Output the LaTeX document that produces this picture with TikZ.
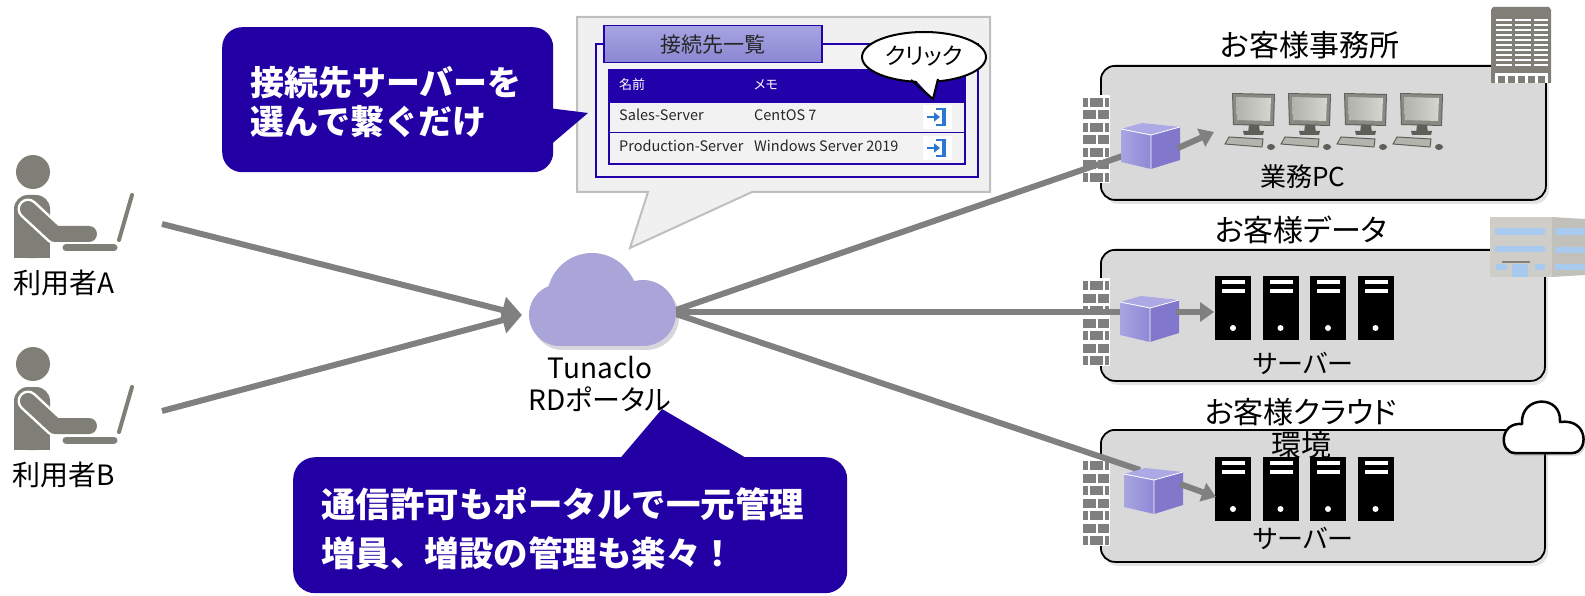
\documentclass[tikz,border=0pt]{standalone}
\usepackage{fontspec}
\setmainfont{Noto Sans CJK JP}[CharacterWidth=AlternateProportional]
\newfontfamily\calloutfont{Noto Sans CJK JP}
\usetikzlibrary{arrows.meta,shadows}

\newcommand{\fsz}[2]{\fontsize{#1pt}{#2pt}\selectfont}

\definecolor{indigo}{HTML}{2300A3}
\definecolor{tableblue}{HTML}{2200AA}
\definecolor{linkgray}{HTML}{808080}
\definecolor{figgray}{HTML}{7F7F77}
\definecolor{panelgray}{HTML}{D9D9D9}
\definecolor{listgray}{HTML}{F0F0F0}
\definecolor{rowgray}{HTML}{F2F2F2}
\definecolor{listedge}{HTML}{BFBFBF}
\definecolor{portalfill}{HTML}{A9A5D9}
\definecolor{portalshade}{HTML}{D6D6DC}
\definecolor{cubetop}{HTML}{ADA9E4}
\definecolor{cubeleftA}{HTML}{A9A5E1}
\definecolor{cubeleftB}{HTML}{8E88D6}
\definecolor{cuberight}{HTML}{8178CC}
\definecolor{brickgray}{HTML}{7F7F7F}
\definecolor{pcframe}{HTML}{8A8A84}
\definecolor{pcdark}{HTML}{5F5F59}
\definecolor{pcscreenA}{HTML}{B2B2AC}
\definecolor{pcscreenB}{HTML}{D6D6D1}
\definecolor{pckeys}{HTML}{B4B4AE}
\definecolor{towerface}{HTML}{CFCDC7}
\definecolor{towerside}{HTML}{C2C0BA}
\definecolor{glass}{HTML}{A8CAEE}
\definecolor{loginblue}{HTML}{2B78D0}
\definecolor{tabtop}{HTML}{A7A4E3}
\definecolor{tabbottom}{HTML}{8A86D1}
\definecolor{textdark}{HTML}{262626}

\tikzset{
  % person working at a laptop, origin at the centre of the head
  user/.pic={
    \fill[figgray] (0,0) circle[radius=17pt];
    \fill[figgray, rounded corners=14pt] (-19,23) rectangle (17,86);
    \fill[figgray] (-19,55) rectangle (17,86);
    \draw[white, line width=21pt, line cap=round, line join=round] (-5,37) -- (22,62) -- (56,62);
    \draw[figgray, line width=16pt, line cap=round, line join=round] (-5,37) -- (22,62) -- (56,62);
    \draw[figgray, line width=7pt, line cap=round] (33,76) -- (81,76);
    \draw[figgray, line width=4pt, line cap=round] (86,68) -- (99,23);
  },
  % desktop PC, origin at the top left of the monitor
  pc/.pic={
    \fill[pcdark] (0,0) -- (43,1) -- (42,33) -- (1,32) -- cycle;
    \fill[pcframe] (1,1) -- (42,2) -- (41,32) -- (2,31) -- cycle;
    \shade[left color=pcscreenA, right color=pcscreenB] (4,4) -- (39,5) -- (38,28) -- (5,27) -- cycle;
    \fill[pcdark] (17,32) -- (27,32) -- (28,40) -- (16,40) -- cycle;
    \fill[pcdark] (11,38) -- (32,38) -- (31,42) -- (12,42) -- cycle;
    \filldraw[fill=pckeys, draw=pcdark, line width=1pt] (-3,44) -- (31,46) -- (30,54) -- (-7,51) -- cycle;
    \fill[pcdark] (39,54) ellipse[x radius=4pt, y radius=3pt];
  },
  % tower server, origin at the top left
  server/.pic={
    \fill[black] (0,0) rectangle (36,64);
    \fill[white] (7,4) rectangle (30,8);
    \fill[white] (7,13) rectangle (30,17);
    \fill[white] (18,52) circle[radius=3pt];
  },
  % brick firewall, origin at the top left
  firewall/.pic={
    \fill[white] (0,0) rectangle (28,88);
    \foreach \r in {0,2,4,6}{
      \pgfmathsetmacro\yy{3+12.5*\r}
      \fill[brickgray] (1,\yy) rectangle (6,{\yy+9});
      \fill[brickgray] (8,\yy) rectangle (21,{\yy+9});
      \fill[brickgray] (23,\yy) rectangle (27,{\yy+9});
    }
    \foreach \r in {1,3,5}{
      \pgfmathsetmacro\yy{3+12.5*\r}
      \fill[brickgray] (1,\yy) rectangle (14,{\yy+9});
      \fill[brickgray] (16,\yy) rectangle (27,{\yy+9});
    }
  },
  % gateway box, origin at the top left
  cube/.pic={
    \fill[cubetop] (1,7) -- (22,1) -- (60,5) -- (31,13) -- cycle;
    \shade[left color=cubeleftA, right color=cubeleftB] (1,7) -- (31,13) -- (31,47) -- (1,40) -- cycle;
    \fill[cuberight] (31,13) -- (60,5) -- (60,38) -- (31,47) -- cycle;
    \draw[white, line width=0.8pt, line join=round] (1,7) -- (31,13) -- (60,5) (31,13) -- (31,47);
  },
  % sign-in glyph on a white tile
  login/.pic={
    \fill[white] (0,0) rectangle (29,24);
    \draw[loginblue, line width=2pt] (13,4) -- (21,4);
    \draw[loginblue, line width=2pt] (13,20) -- (21,20);
    \draw[loginblue, line width=4pt] (21,3) -- (21,21);
    \draw[loginblue, line width=2.5pt, -{Triangle[length=6pt,width=9pt]}] (4,12) -- (17,12);
  },
}

\begin{document}
\begin{tikzpicture}[x=1pt, y=-1pt,
  wire/.style={draw=linkgray, line width=6pt},
  wirearrow/.style={wire, -{Triangle[length=20pt,width=26pt]}},
  shortarrow/.style={wire, -{Triangle[length=14pt,width=19pt]}},
  panel/.style={draw=black, line width=1.8pt, fill=panelgray, rounded corners=14pt,
    drop shadow={opacity=0.22, shadow xshift=3pt, shadow yshift=-4pt},
    anchor=north west, inner sep=0pt},
  paneltitle/.style={font=\fsz{30}{33}, text=black, align=center},
  lbl/.style={font=\fsz{28}{32}, text=black, align=center},
  sublbl/.style={font=\fsz{26}{30}, text=black},
  cell/.style={anchor=west, inner sep=0pt, text height=10pt, text depth=3pt, font=\fsz{14.5}{16}, text=textdark},
  headcell/.style={cell, font=\fsz{13}{15}, text=white},
  bubble/.style={fill=indigo, anchor=north west, inner sep=0pt},
  bubbletext/.style={anchor=west, inner sep=0pt, align=left, text=white, font=\calloutfont\bfseries\fsz{34}{39}},
]
\useasboundingbox (0,0) rectangle (1585,596);

% ---------- customer sites ----------
\node[panel, minimum width=445pt, minimum height=134pt] (office) at (1100,65) {};
\node[panel, minimum width=444pt, minimum height=131pt] (datacenter) at (1100,249) {};
\node[panel, minimum width=444pt, minimum height=132pt] (cloudenv) at (1100,429) {};

\node[paneltitle] (officeTitle) at (1310,45) {お客様事務所};
\node[paneltitle] (dataTitle) at (1301,230) {お客様データ};
\node[paneltitle] (cloudTitle) at (1301,429) {お客様クラウド\\環境};

% office tower
\fill[figgray] (1493,7) -- (1549,7) -- (1551,10) -- (1551,83) -- (1491,83) -- (1491,10) -- cycle;
\foreach \r in {0,...,9}{
  \fill[white] (1496,{19+5*\r}) rectangle (1512,{21.2+5*\r});
  \fill[white] (1515,{19+5*\r}) rectangle (1531,{21.2+5*\r});
  \fill[white] (1534,{19+5*\r}) rectangle (1548,{21.2+5*\r});
}
\fill[white] (1495,73) rectangle (1548,83);
\foreach \k in {0,...,4}{ \fill[figgray] ({1498+10*\k},76) rectangle ({1505+10*\k},83); }

% data centre building
\fill[towerface] (1490,217) rectangle (1552,277);
\fill[towerside] (1552,217) -- (1585,219) -- (1585,275) -- (1552,277) -- cycle;
\fill[glass] (1495,228) rectangle (1545,235);
\fill[glass] (1495,246) rectangle (1545,252);
\fill[gray] (1502,261) rectangle (1530,263);
\fill[glass] (1496,264) rectangle (1507,270);
\fill[glass] (1512,264) rectangle (1528,277);
\fill[glass] (1535,264) rectangle (1545,270);
\fill[glass] (1555,228) rectangle (1585,235);
\fill[glass] (1555,247) rectangle (1585,253);
\fill[glass] (1555,264) rectangle (1585,270);

% cloud badge
\draw[black, line width=2.5pt, fill=white, line join=round,
      drop shadow={opacity=0.25, shadow xshift=2pt, shadow yshift=-3pt}]
  (1515,453) .. controls (1499,453) and (1499,422) .. (1522,424)
  .. controls (1520,395) and (1562,394) .. (1560,422)
  .. controls (1589,418) and (1589,453) .. (1572,453) -- cycle;

% devices
\foreach \k in {0,...,3}{ \pic at ({1232+56*\k},93) {pc}; }
\foreach \k in {0,...,3}{ \pic at ({1215+47.5*\k},276) {server}; }
\foreach \k in {0,...,3}{ \pic at ({1215+47.5*\k},457) {server}; }

\node[sublbl] (pcLabel) at (1303,177) {業務PC};
\node[sublbl] (dataServerLabel) at (1303,363) {サーバー};
\node[sublbl] (cloudServerLabel) at (1303,538) {サーバー};

% firewalls
\pic at (1082,95) {firewall};
\pic at (1082,278) {firewall};
\pic at (1082,458) {firewall};

% ---------- connections ----------
\coordinate (userAout) at (162,224);
\coordinate (userBout) at (162,411);
\coordinate (portalIn) at (522,315);
\coordinate (portalOut) at (670,312);
\coordinate (officeGate) at (1140,150);
\coordinate (dataGate) at (1140,312);
\coordinate (cloudGate) at (1140,470);
\coordinate (officeGateOut) at (1178,148);
\coordinate (dataGateOut) at (1176,312);
\coordinate (cloudGateOut) at (1180,484);
\coordinate (officeDesks) at (1214,132);
\coordinate (dataRack) at (1214,312);
\coordinate (cloudRack) at (1216,497);

\fill[portalshade] (595,302) circle[radius=45pt] (563,319) circle[radius=31pt]
  (646,317) circle[radius=33pt];
\fill[portalshade] (563,304) rectangle (646,350);

\draw[wire] (portalOut) -- (officeGate);
\draw[wire] (portalOut) -- (dataGate);
\draw[wire] (portalOut) -- (cloudGate);

\pic at (1120,122) {cube};
\pic at (1119,295) {cube};
\pic at (1123,467) {cube};

\draw[shortarrow] (officeGateOut) -- (officeDesks);
\draw[shortarrow] (dataGateOut) -- (dataRack);
\draw[shortarrow] (cloudGateOut) -- (cloudRack);

\draw[wirearrow] (userAout) -- (portalIn);
\draw[wirearrow] (userBout) -- (portalIn);

% ---------- portal ----------
\fill[portalfill] (592,298) circle[radius=45pt] (560,315) circle[radius=31pt]
  (643,313) circle[radius=33pt];
\fill[portalfill] (560,300) rectangle (643,346);
\coordinate (portal) at (600,312);
\node[lbl] (portalLabel) at (600,384) {Tunaclo\\RDポータル};

% ---------- users ----------
\pic at (33,172) {user};
\pic at (33,364) {user};
\node[lbl] (userALabel) at (64,283) {利用者A};
\node[lbl] (userBLabel) at (64,475) {利用者B};

% ---------- connection list window ----------
\filldraw[fill=listgray, draw=listedge, line width=2pt, line join=miter]
  (577,17) -- (990,17) -- (990,192) -- (752,192) -- (630,248) -- (648,192) -- (577,192) -- cycle;
\draw[tableblue, line width=2.5pt, fill=rowgray] (596,44) rectangle (978,177);
\node[draw=tableblue, line width=1.5pt, top color=tabtop, bottom color=tabbottom,
      minimum width=218pt, minimum height=37pt, anchor=north west, inner sep=0pt,
      font=\fsz{21}{24}, text=textdark] (listTab) at (603,25) {接続先一覧};

\node[fill=tableblue, minimum width=355pt, minimum height=32pt, anchor=north west, inner sep=0pt] (tableHead) at (609,70) {};
\node[draw=tableblue, fill=rowgray, line width=1.2pt, minimum width=355pt, minimum height=30pt,
      anchor=north west, inner sep=0pt] (rowSales) at (609,102) {};
\node[draw=tableblue, fill=rowgray, line width=1.2pt, minimum width=355pt, minimum height=31pt,
      anchor=north west, inner sep=0pt] (rowProd) at (609,132) {};
\draw[tableblue, line width=1.5pt] (tableHead.north west) rectangle (rowProd.south east);

\node[headcell] (colName) at (619,86) {名前};
\node[headcell] (colMemo) at (754,86) {メモ};
\node[cell] (salesName) at (619,117) {Sales-Server};
\node[cell] (salesMemo) at (754,117) {CentOS 7};
\node[cell] (prodName) at (619,148) {Production-Server};
\node[cell] (prodMemo) at (754,148) {Windows Server 2019};
\pic at (923,105) {login};
\pic at (923,136) {login};

% "click" speech bubble
\filldraw[fill=white, draw=black, line width=2pt] (924,57) ellipse[x radius=62pt, y radius=25pt];
\fill[white] (912,76) -- (933,99) -- (938,74) -- cycle;
\draw[black, line width=2pt, line join=miter] (911,80) -- (933,99) -- (938,79);
\node[font=\fsz{23}{25}, text=black] (clickText) at (924,56) {クリック};

% ---------- call-outs ----------
\fill[indigo] (548,108) -- (588,113) -- (548,147) -- cycle;
\node[bubble, rounded corners=20pt, minimum width=331pt, minimum height=145pt] (pickBubble) at (222,27) {};
\node[bubbletext] (pickText) at (250,102) {接続先サーバーを\\選んで繋ぐだけ};

\fill[indigo] (617,462) -- (662,409) -- (753,462) -- cycle;
\node[bubble, rounded corners=22pt, minimum width=554pt, minimum height=136pt] (mgmtBubble) at (293,457) {};
\node[bubbletext, font=\calloutfont\bfseries\fsz{34.5}{49}] (mgmtText) at (321,529)
  {通信許可もポータルで一元管理\\増員、増設の管理も楽々！};

\end{tikzpicture}
\end{document}
